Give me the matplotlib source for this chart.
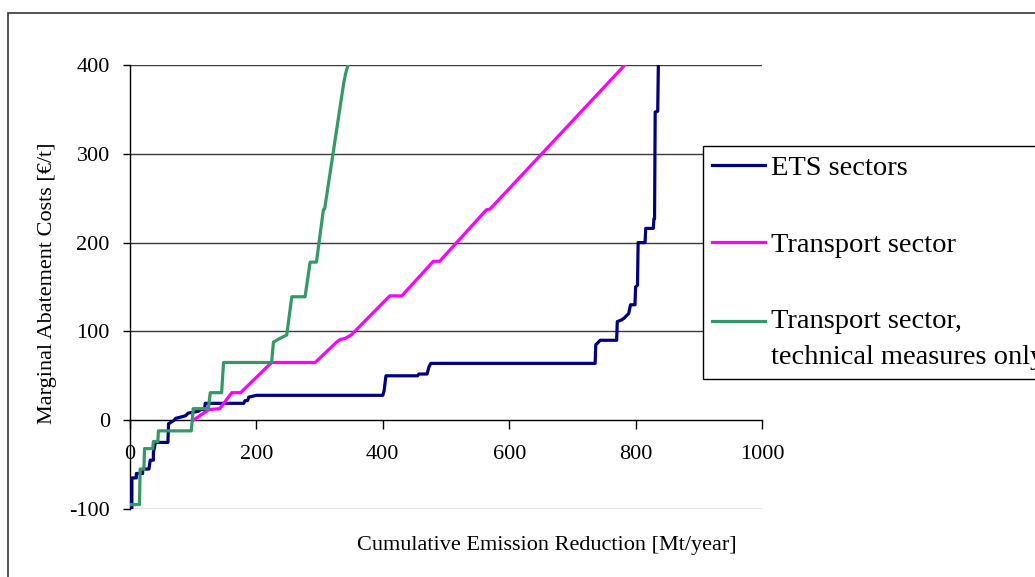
import matplotlib
matplotlib.use("Agg")
import matplotlib.pyplot as plt
from matplotlib.patches import Rectangle

plt.rcParams['font.family'] = ['Liberation Serif', 'DejaVu Serif']
plt.rcParams['axes.unicode_minus'] = False

# ETS sectors
ets_x = [0, 3, 3, 10, 10, 20, 20, 30, 32, 37, 37, 39, 40, 60, 61, 70, 72, 88, 92, 108,
         112, 118, 119, 180, 182, 186, 188, 200, 400, 402, 405, 455, 457, 470, 473, 476,
         736, 737, 740, 744, 770, 771, 778, 782, 786, 789, 792, 799, 800, 803, 804, 815,
         816, 828, 829, 830, 831, 835, 836]
ets_y = [-100, -100, -65, -65, -60, -60, -55, -55, -45, -45, -36, -30, -25, -25, -4, 0, 2, 5, 8, 10,
         12, 12, 19, 19, 22, 22, 26, 28, 28, 33, 50, 50, 52, 52, 60, 64,
         64, 85, 87, 90, 90, 111, 113, 115, 118, 120, 130, 130, 150, 152, 200, 200,
         216, 216, 227, 227, 347, 348, 400]

# Transport sector
trans_x = [100, 125, 142, 161, 175, 224, 293, 327, 333, 340, 350, 411, 430, 480, 490, 564, 570, 783]
trans_y = [0, 12, 13, 31, 31, 65, 65, 88, 91, 92, 96, 140, 140, 179, 179, 237, 238, 400]

# Transport sector, technical measures only
tech_x = [0, 15, 16, 22, 23, 36, 37, 44, 45, 97, 100, 124, 127, 145, 148, 224, 227, 237, 248,
          256, 277, 285, 295, 306, 308, 338, 341, 345]
tech_y = [-95, -95, -55, -55, -32, -32, -24, -24, -12, -12, 13, 13, 31, 31, 65, 65, 88, 92, 96,
          139, 139, 178, 178, 237, 238, 379, 390, 400]

x_ticks = [0, 200, 400, 600, 800, 1000]
y_ticks = [-100, 0, 100, 200, 300, 400]

fig = plt.figure(figsize=(10.35, 5.77), dpi=100)
ax = fig.add_axes([130/1035, 1 - 509/577, 632/1035, 444/577])

# outer frame of the chart area
fig.patches.append(Rectangle((8/1035, -0.1), 1.2, 1 - 13/577 + 0.1, transform=fig.transFigure,
                             fill=False, edgecolor='#333333', linewidth=1.2))

for yv in [-100, 100, 200, 300, 400]:
    ax.axhline(yv, color='#3a3a3a' if yv != -100 else '#808080', linewidth=1, zorder=1)

ax.plot(ets_x, ets_y, color='#000080', linewidth=2.3, label='ETS sectors', zorder=3)
ax.plot(trans_x, trans_y, color='#FF00FF', linewidth=2.3, label='Transport sector', zorder=3)
ax.plot(tech_x, tech_y, color='#339966', linewidth=2.3,
        label='Transport sector,\ntechnical measures only', zorder=3)

ax.set_xlim(0, 1000)
ax.set_ylim(-100, 400)
ax.set_xticks(x_ticks)
ax.set_yticks(y_ticks)
ax.spines['top'].set_visible(False)
ax.spines['right'].set_visible(False)
ax.spines['bottom'].set_position(('data', 0))
ax.spines['left'].set_linewidth(1)
ax.spines['bottom'].set_linewidth(1)
ax.tick_params(axis='x', direction='out', length=6.5, width=1, pad=11, labelsize=16)
ax.tick_params(axis='y', direction='out', length=5, width=1, pad=9.5, labelsize=16)

ax.set_xlabel('Cumulative Emission Reduction [Mt/year]', fontsize=16)
ax.xaxis.set_label_coords((547 - 130) / 632, (509 - 536) / 444)
ax.set_ylabel('Marginal Abatement Costs [€/t]', fontsize=16)
ax.yaxis.set_label_coords((57 - 130) / 632, (509 - 283) / 444)

leg = ax.legend(loc='upper left', bbox_to_anchor=(703/1035, 1 - 146/577),
                bbox_transform=fig.transFigure, borderaxespad=0, fontsize=20.5,
                frameon=True, fancybox=False, edgecolor='black', framealpha=1,
                handlelength=1.85, handletextpad=0.22, labelspacing=1.8, borderpad=0.32)
leg.get_frame().set_linewidth(1)
for t in leg.get_texts():
    t.set_linespacing(1.55)
# keep the green sample level with the first line of its two-line label
h = leg.legend_handles[2]
h.set_ydata([v + 13.3 for v in h.get_ydata()])

fig.savefig('out.png', dpi=100)
